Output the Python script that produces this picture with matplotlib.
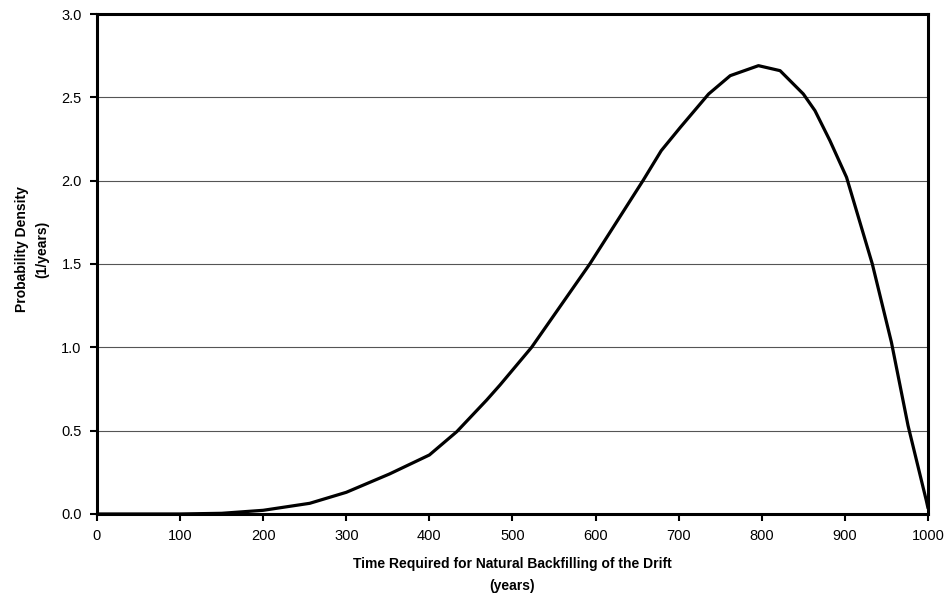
import matplotlib
matplotlib.use("Agg")
import matplotlib.pyplot as plt

plt.rcParams['font.family'] = ['Liberation Sans', 'DejaVu Sans']

# probability density of backfill time
years = [0, 100, 150, 200, 256, 300, 352, 400, 433, 469, 485, 523, 593,
         657, 679, 702, 736, 762, 796, 822, 850, 864, 882, 902, 933, 956,
         976, 998, 1000]
density = [0.0, 0.0, 0.004, 0.022, 0.064, 0.13, 0.24, 0.354, 0.494, 0.684,
           0.774, 1.0, 1.5, 2.0, 2.18, 2.32, 2.52, 2.63, 2.69, 2.66, 2.52,
           2.42, 2.24, 2.02, 1.5, 1.03, 0.53, 0.08, 0.035]

xticks = list(range(0, 1001, 100))
yticks = [0.0, 0.5, 1.0, 1.5, 2.0, 2.5, 3.0]

fig = plt.figure(figsize=(9.48, 6.01), dpi=100)
ax = fig.add_axes([0.1023, 0.1448, 0.8766, 0.8319])

ax.plot(years, density, color='black', lw=2.3, solid_joinstyle='round',
        solid_capstyle='round')

ax.set_xlim(0, 1000)
ax.set_ylim(0, 3.0)
ax.set_xticks(xticks)
ax.set_yticks(yticks)
ax.set_yticklabels(['%.1f' % v for v in yticks])
ax.yaxis.grid(True, color='#555555', lw=0.8)
ax.set_axisbelow(True)

for s in ax.spines.values():
    s.set_linewidth(2.2)
    s.set_color('black')

ax.tick_params(direction='out', length=5, width=1.5, labelsize=10.5,
               colors='black', pad=6)

ax.set_xlabel('Time Required for Natural Backfilling of the Drift\n(years)',
              fontsize=10, fontweight='bold', labelpad=10, linespacing=1.7)
ax.set_ylabel('Probability Density\n(1/years)', fontsize=10,
              fontweight='bold', linespacing=1.5)
ax.yaxis.set_label_coords(-0.058, 0.53)

fig.savefig('out.png', dpi=100)
